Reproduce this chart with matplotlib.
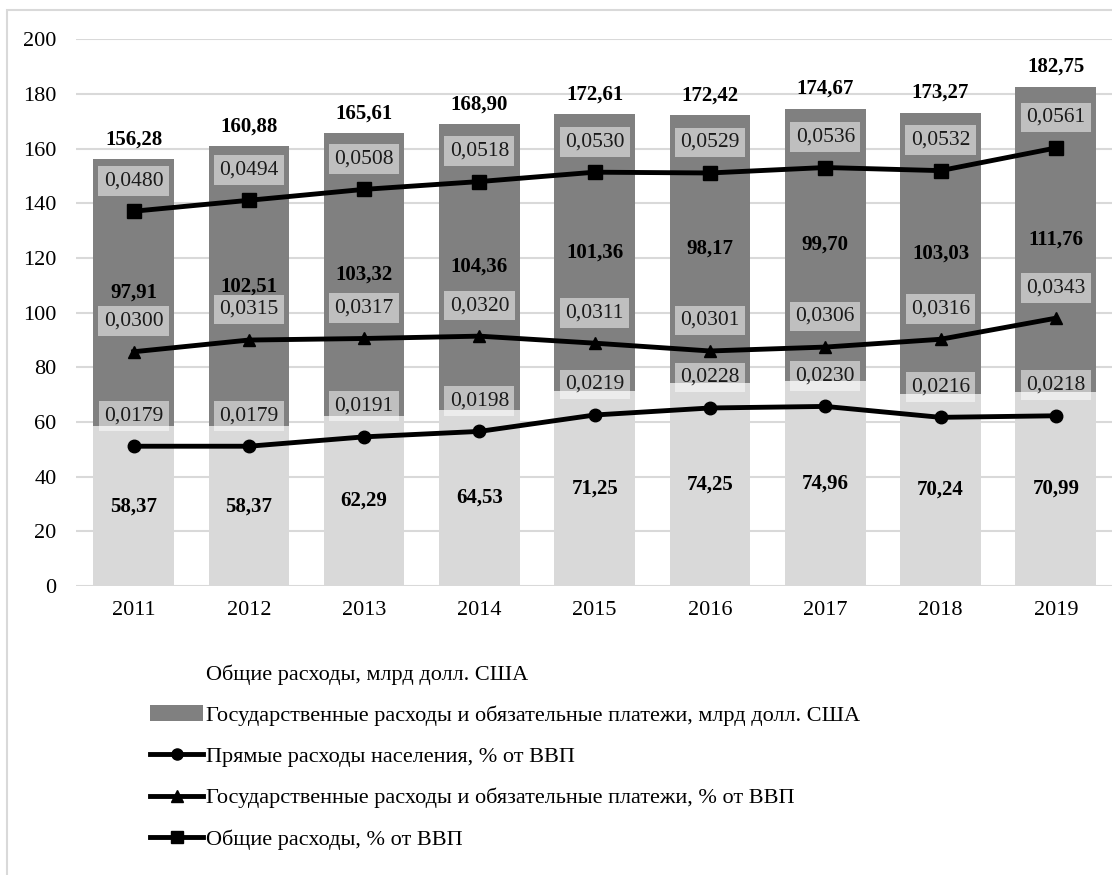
import matplotlib.pyplot as plt
from matplotlib.lines import Line2D
from matplotlib.patches import Patch, Rectangle

plt.rcParams['font.family'] = ['Liberation Serif', 'DejaVu Serif']

years = ['2011', '2012', '2013', '2014', '2015', '2016', '2017', '2018', '2019']

# млрд долл. США
direct_bn = [58.37, 58.37, 62.29, 64.53, 71.25, 74.25, 74.96, 70.24, 70.99]
gov_bn = [97.91, 102.51, 103.32, 104.36, 101.36, 98.17, 99.70, 103.03, 111.76]
total_bn = [156.28, 160.88, 165.61, 168.90, 172.61, 172.42, 174.67, 173.27, 182.75]

# доли ВВП
direct_gdp = [0.0179, 0.0179, 0.0191, 0.0198, 0.0219, 0.0228, 0.0230, 0.0216, 0.0218]
gov_gdp = [0.0300, 0.0315, 0.0317, 0.0320, 0.0311, 0.0301, 0.0306, 0.0316, 0.0343]
total_gdp = [0.0480, 0.0494, 0.0508, 0.0518, 0.0530, 0.0529, 0.0536, 0.0532, 0.0561]

legend_labels = [
    'Общие расходы, млрд долл. США',
    'Государственные расходы и обязательные платежи, млрд долл. США',
    'Прямые расходы населения, % от ВВП',
    'Государственные расходы и обязательные платежи, % от ВВП',
    'Общие расходы, % от ВВП',
]

def comma(v, nd):
    return f'{v:.{nd}f}'.replace('.', ',')

fig = plt.figure(figsize=(11.12, 8.75), dpi=100)
ax = fig.add_axes([0.0683, 0.3303, 0.933, 0.6246])

x = list(range(len(years)))
light = '#d9d9d9'
dark = '#808080'

b1 = ax.bar(x, direct_bn, width=0.7, color=light, zorder=2)
b2 = ax.bar(x, gov_bn, width=0.7, bottom=direct_bn, color=dark, zorder=2)

ax.bar_label(b1, labels=[comma(v, 2) for v in direct_bn], label_type='center',
             fontsize=15, fontweight='bold')
ax.bar_label(b2, labels=[comma(v, 2) for v in gov_bn], label_type='center',
             fontsize=15, fontweight='bold')
ax.bar_label(b2, labels=[comma(v, 2) for v in total_bn], label_type='edge',
             padding=7, fontsize=15, fontweight='bold')

ax.set_xlim(-0.5, len(years) - 0.5)
ax.set_ylim(0, 200)
ax.set_yticks(range(0, 201, 20))
ax.set_xticks(x)
ax.set_xticklabels(years)
ax.tick_params(axis='both', length=0, labelsize=16)
ax.tick_params(axis='y', pad=14)
ax.tick_params(axis='x', pad=11)
ax.grid(axis='y', color='#d9d9d9', linewidth=1.5, zorder=0)
ax.set_axisbelow(True)
for s in ax.spines.values():
    s.set_visible(False)

ax2 = ax.twinx()
ax2.set_ylim(0, 0.07)
ax2.set_yticks([])
for s in ax2.spines.values():
    s.set_visible(False)

series = [(direct_gdp, 'o', 9), (gov_gdp, '^', 9), (total_gdp, 's', 10)]
for vals, mk, ms in series:
    ax2.plot(x, vals, color='black', linewidth=3.5, marker=mk, markersize=ms, zorder=3)
    for xi, v in zip(x, vals):
        ax2.annotate(comma(v, 4), (xi, v), xytext=(0, 22), textcoords='offset points',
                     ha='center', va='center', fontsize=15.5, color='#1a1a1a', zorder=4,
                     bbox=dict(boxstyle='square,pad=0.25', facecolor='white',
                               edgecolor='none', alpha=0.5))

handles = [
    Patch(facecolor='none', edgecolor='none'),
    Patch(facecolor=dark, edgecolor='none'),
    Line2D([], [], color='black', linewidth=3.5, marker='o', markersize=8),
    Line2D([], [], color='black', linewidth=3.5, marker='^', markersize=8),
    Line2D([], [], color='black', linewidth=3.5, marker='s', markersize=8),
]
fig.legend(handles, legend_labels, loc='upper left', bbox_to_anchor=(150 / 1112, 0.241),
           frameon=False, fontsize=16, borderpad=0, borderaxespad=0,
           handlelength=2.4, handletextpad=0.1, labelspacing=0.93)

fig.patches.append(Rectangle((7 / 1112, -0.1), 1.2, 0.1 + 865 / 875, transform=fig.transFigure,
                             fill=False, edgecolor='#d9d9d9', linewidth=1.5))

fig.savefig('out.png', dpi=100)
